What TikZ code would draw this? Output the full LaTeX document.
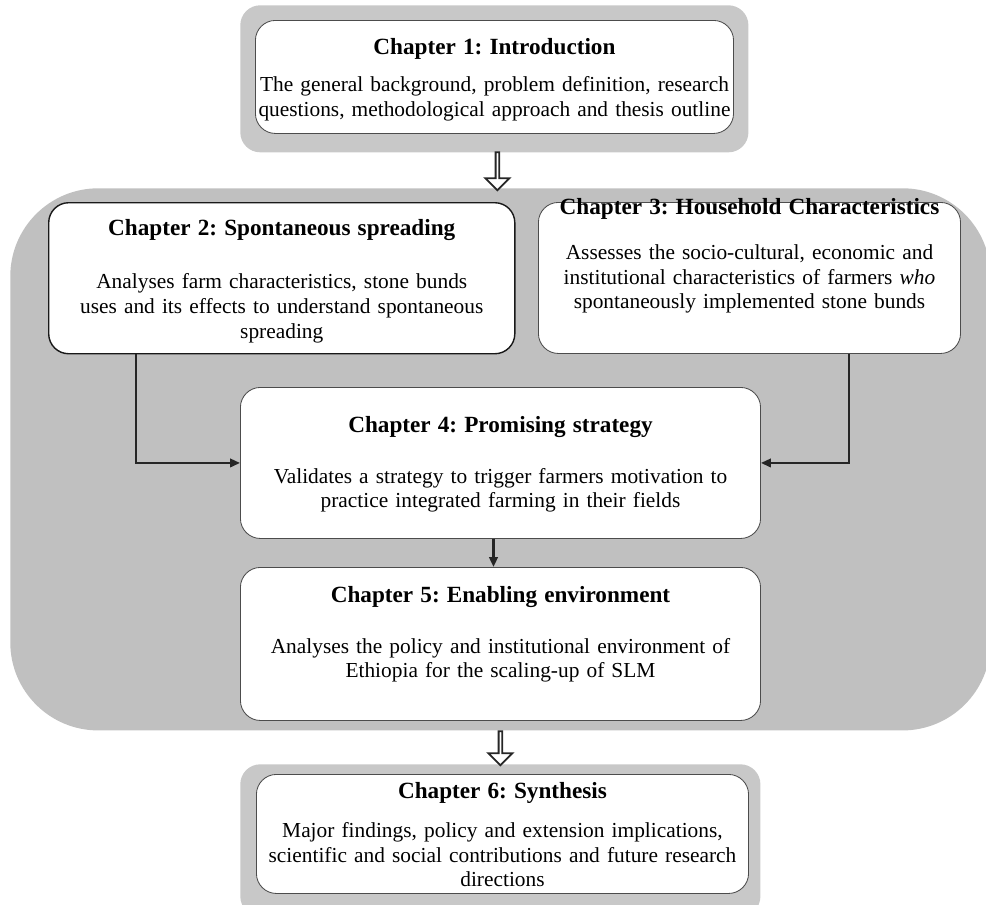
\documentclass[tikz,border=0pt]{standalone}
\usepackage{fontspec}
\setmainfont{Liberation Serif}
\usetikzlibrary{shapes.arrows,arrows.meta,calc}
\frenchspacing
\hyphenpenalty=10000

\definecolor{stagegray}{RGB}{192,192,192}
\definecolor{framegray}{RGB}{200,200,200}

\newcommand{\chtitle}[1]{{\fontsize{16.5}{19}\selectfont\bfseries #1}}

\tikzset{
  chbox/.style={draw=black!70, line width=0.6pt, fill=white, rounded corners=0.5cm,
    align=center, inner xsep=0pt, inner ysep=0pt, anchor=north west,
    font=\fontsize{15.2}{17.7}\selectfont},
  frame/.style={fill=framegray, rounded corners=0.5cm, inner sep=0pt, anchor=north west},
  hollow/.style={single arrow, draw=black!85, line width=1.3pt, fill=white,
    shape border rotate=270, minimum width=0.6cm, single arrow head extend=0.13cm,
    inner sep=0pt},
  link/.style={draw=black!85, line width=1.5pt, -{Triangle[length=7pt,width=6pt]}},
}

\begin{document}
\begin{tikzpicture}[x=0.025cm, y=-0.025cm]
    \useasboundingbox (0,0) rectangle (986,904);

    % grey backgrounds
    \node[frame, minimum width=12.7cm, minimum height=3.675cm] (top) at (240,5) {};
    \node[frame, fill=stagegray, rounded corners=2.2cm, minimum width=24.5cm,
          minimum height=13.55cm] (stage) at (10,188) {};
    \node[frame, minimum width=13cm, minimum height=3.8cm] (bottom) at (240,764) {};

    % chapters
    \node[chbox, text width=11.95cm, text height=0.85cm, text depth=1.975cm] (ch1) at (255,20)
        {\chtitle{Chapter 1: Introduction}\\[8.4pt]
         The general background, problem definition, research\\
         questions, methodological approach and thesis outline};

    \node[chbox, draw=black!90, line width=1pt, text width=11.65cm, text height=0.825cm,
          text depth=2.95cm] (ch2) at (48,202)
        {\chtitle{Chapter 2: Spontaneous spreading}\\[19.8pt]
         Analyses farm characteristics, stone bunds\\
         uses and its effects to understand spontaneous\\
         spreading};

    \node[chbox, text width=10.55cm, text height=0.3cm, text depth=3.475cm] (ch3) at (538,202)
        {\chtitle{Chapter 3: Household Characteristics}\\[14.1pt]
         Assesses the socio-cultural, economic and\\
         institutional characteristics of farmers \textit{who}\\
         spontaneously implemented stone bunds};

    \node[chbox, text width=13cm, text height=1.125cm, text depth=2.65cm] (ch4) at (240,387)
        {\chtitle{Chapter 4: Promising strategy}\\[18.3pt]
         Validates a strategy to trigger farmers motivation to\\
         practice integrated farming in their fields};

    \node[chbox, text width=13cm, text height=0.875cm, text depth=2.95cm] (ch5) at (240,567)
        {\chtitle{Chapter 5: Enabling environment}\\[18.3pt]
         Analyses the policy and institutional environment of\\
         Ethiopia for the scaling-up of SLM};

    \node[chbox, text width=12.3cm, text height=0.6cm, text depth=2.375cm] (ch6) at (256,774)
        {\chtitle{Chapter 6: Synthesis}\\[9.8pt]
         Major findings, policy and extension implications,\\
         scientific and social contributions and future research\\
         directions};

    % block arrows
    \node[hollow, minimum height=0.95cm] (arr1) at ($(top.south)!0.5!(stage.north)$) {};
    \node[hollow, minimum height=0.85cm] (arr2) at ($(stage.south)!0.5!(bottom.north)$) {};

    % links
    \draw[link] ([xshift=2.2cm]ch2.south west) |- (ch4.west);
    \draw[link] ([xshift=-2.8cm]ch3.south east) |- (ch4.east);
    \draw[link, line width=2pt] ([xshift=-0.175cm]ch4.south) -- ([xshift=-0.175cm]ch5.north);
\end{tikzpicture}
\end{document}
